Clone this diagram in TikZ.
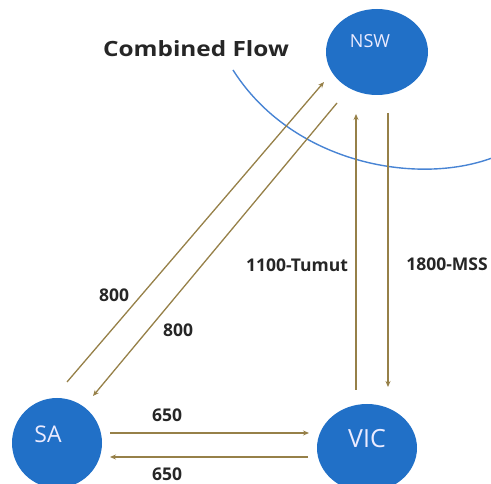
\documentclass[tikz,border=0pt]{standalone}
\usepackage{fontspec}
\setmainfont{Open Sans}
\usetikzlibrary{arrows.meta,shapes.geometric}
\definecolor{stateblue}{RGB}{33,112,199}
\definecolor{arcblue}{RGB}{72,132,212}
\definecolor{flow}{RGB}{150,128,72}
\begin{document}
\begin{tikzpicture}[x=1pt,y=-1pt,
  region/.style={ellipse,fill=stateblue,inner sep=0pt},
  statelabel/.style={text=white!92!blue,inner sep=0pt},
  flowline/.style={draw=flow,line width=1.3pt,-{Stealth[length=6pt,width=5pt]}},
  qty/.style={font=\bfseries\fontsize{17.5}{19}\selectfont,text=black!85,inner sep=0pt}]
\useasboundingbox (0,0) rectangle (491,484);
% region boundary curve
\coordinate (arcA) at (233,70);
\coordinate (arcB) at (492,158);
\draw[arcblue,line width=1.4pt] (arcA) .. controls (292,163) and (416,186) .. (arcB);
% states
\node[region,minimum width=102pt,minimum height=86pt] (NSW) at (377,52) {};
\node[region,minimum width=90pt,minimum height=90pt] (SA) at (57,443) {};
\node[region,minimum width=100pt,minimum height=88pt] (VIC) at (367,448) {};
\node[statelabel,font=\fontsize{18}{20}\selectfont] (nswText) at (370,41) {NSW};
\node[statelabel,font=\fontsize{23}{25}\selectfont] (saText) at (48,434) {SA};
\node[statelabel,font=\fontsize{25}{27}\selectfont] (vicText) at (367,439) {VIC};
% arrow end points
\coordinate (saUp) at (67,382);
\coordinate (nswIn) at (324,82);
\coordinate (nswOut) at (337,103);
\coordinate (saIn) at (93,396);
\coordinate (vicUp) at (356,390);
\coordinate (nswInV) at (356,114);
\coordinate (nswOutV) at (388,113);
\coordinate (vicIn) at (388,387);
\coordinate (saE1) at (110,433);
\coordinate (vicW1) at (309,433);
\coordinate (vicW2) at (308,457);
\coordinate (saE2) at (110,457);
% flows
\draw[flowline] (saUp) -- (nswIn);
\draw[flowline] (nswOut) -- (saIn);
\draw[flowline] (vicUp) -- (nswInV);
\draw[flowline] (nswOutV) -- (vicIn);
\draw[flowline] (saE1) -- (vicW1);
\draw[flowline] (vicW2) -- (saE2);
% labels
\node[font=\bfseries\fontsize{21}{23}\selectfont,text=black!85,inner sep=0pt] (title) at (196,49) {\scalebox{1.16}[1]{Combined Flow}};
\node[qty] (l1) at (114,295) {800};
\node[qty] (l2) at (178,330) {800};
\node[qty] (l3) at (297,265) {1100-Tumut};
\node[qty] (l4) at (447,264) {1800-MSS};
\node[qty] (l5) at (167,415) {650};
\node[qty] (l6) at (167,474) {650};
\end{tikzpicture}
\end{document}
